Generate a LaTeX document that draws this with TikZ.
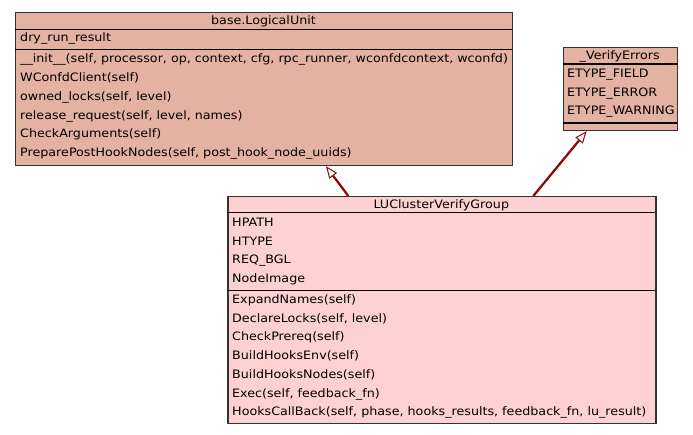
\documentclass[tikz,border=0pt]{standalone}
\usepackage{fontspec}
\setmainfont[FakeStretch=1.095]{DejaVu Sans}
\usetikzlibrary{arrows.meta,calc}
\definecolor{baseFill}{HTML}{E3B2A2}
\definecolor{leafFill}{HTML}{FDD1D3}
\definecolor{boxLine}{HTML}{333333}
\definecolor{inheritLine}{HTML}{8B0A0A}
\tikzset{
  classbox/.style={draw=boxLine, line width=1.2pt, rectangle, inner sep=0pt, anchor=north west},
  member/.style={anchor=base west, inner sep=0pt, font=\fontsize{11.6}{13}\selectfont},
  title/.style={anchor=base, inner sep=0pt, font=\fontsize{11.6}{13}\selectfont},
  rule/.style={draw=black, line width=1.1pt},
  inherit/.style={draw=inheritLine, line width=2.3pt,
    -{Triangle[length=12pt,width=9.5pt,fill=white,line width=1pt]}},
}
\begin{document}
\begin{tikzpicture}[x=1pt,y=-1pt]
\useasboundingbox (0,0) rectangle (693,435);

% base.LogicalUnit
\node[classbox, fill=baseFill, minimum width=497pt, minimum height=153pt] (base) at (15,12) {};
\node[title] (baseT) at (263.5,25) {base.LogicalUnit};
\draw[rule] (15,29.5) -- (512,29.5);
\draw[rule] (15,49.5) -- (512,49.5);
\node[member] (b1) at (20,42) {dry\_run\_result};
\node[member] (b2) at (20,63) {\_\_init\_\_(self, processor, op, context, cfg, rpc\_runner, wconfdcontext, wconfd)};
\node[member] (b3) at (20,82) {WConfdClient(self)};
\node[member] (b4) at (20,101) {owned\_locks(self, level)};
\node[member] (b5) at (20,120) {release\_request(self, level, names)};
\node[member] (b6) at (20,138) {CheckArguments(self)};
\node[member] (b7) at (20,157) {PreparePostHookNodes(self, post\_hook\_node\_uuids)};

% _VerifyErrors
\node[classbox, fill=baseFill, minimum width=114pt, minimum height=83pt] (verr) at (562.7,47) {};
\node[title] (verrT) at (619.7,60) {\_VerifyErrors};
\draw[rule] (562.7,64) -- (676.7,64);
\draw[rule] (562.7,123) -- (676.7,123);
\node[member] (v1) at (567,78) {ETYPE\_FIELD};
\node[member] (v2) at (567,96.5) {ETYPE\_ERROR};
\node[member] (v3) at (567,115) {ETYPE\_WARNING};

% LUClusterVerifyGroup
\node[classbox, fill=leafFill, minimum width=428pt, minimum height=227pt] (luc) at (227.3,196) {};
\node[title] (lucT) at (441.3,208.5) {LUClusterVerifyGroup};
\draw[rule] (227.3,212.7) -- (655.3,212.7);
\draw[rule] (227.3,290.7) -- (655.3,290.7);
\node[member] (l1) at (232,227) {HPATH};
\node[member] (l2) at (232,245.5) {HTYPE};
\node[member] (l3) at (232,264) {REQ\_BGL};
\node[member] (l4) at (232,282.5) {NodeImage};
\node[member] (l5) at (232,303.5) {ExpandNames(self)};
\node[member] (l6) at (232,322.5) {DeclareLocks(self, level)};
\node[member] (l7) at (232,341) {CheckPrereq(self)};
\node[member] (l8) at (232,359.5) {BuildHooksEnv(self)};
\node[member] (l9) at (232,378.5) {BuildHooksNodes(self)};
\node[member] (l10) at (232,397.5) {Exec(self, feedback\_fn)};
\node[member] (l11) at (232,415) {HooksCallBack(self, phase, hooks\_results, feedback\_fn, lu\_result)};

% inheritance
\draw[inherit] ($(luc.north west)+(121,0)$) -- ($(base.south west)+(311,0)$);
\draw[inherit] ($(luc.north west)+(306,0)$) -- ($(verr.south west)+(24,0)$);
\end{tikzpicture}
\end{document}
